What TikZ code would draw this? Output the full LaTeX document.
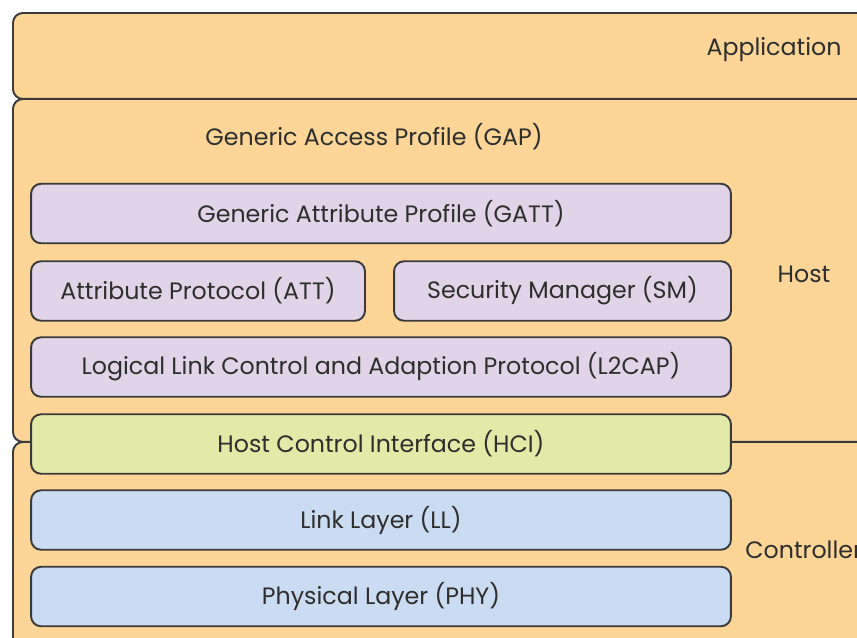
\documentclass[tikz,border=0pt]{standalone}
\usepackage{fontspec}
\setmainfont{Poppins}
\usepackage{xcolor}
\definecolor{layerOrange}{HTML}{FDD596}
\definecolor{layerPurple}{HTML}{E2D4E8}
\definecolor{layerGreen}{HTML}{E3E9A6}
\definecolor{layerBlue}{HTML}{CADCF1}
\definecolor{lineGray}{HTML}{3A3A3A}
\definecolor{textGray}{HTML}{2E2E2E}

\begin{document}
\begin{tikzpicture}[x=0.02cm,y=-0.02cm]
		\tikzset{layer/.style = {draw=lineGray, line width=1.1pt, fill=layerOrange, rounded corners=0.2cm}}
		\tikzset{block/.style = {shape=rectangle, draw=lineGray, line width=1.1pt, rounded corners=0.2cm, minimum height=1.19cm, inner sep=0pt, text=textGray, font=\fontsize{13.5}{15}\selectfont}}
		\tikzset{tag/.style = {text=textGray, inner sep=0pt, font=\fontsize{13.5}{15}\selectfont}}

		\useasboundingbox (0,0) rectangle (857,637);
		\clip (0,0) rectangle (857,637);

		\node[layer, shape=rectangle, minimum width=17.7cm, minimum height=1.72cm, anchor=north west] (app) at (12,12) {};
		\node[layer, shape=rectangle, minimum width=17.7cm, minimum height=6.86cm, anchor=north west] (host) at (12,98) {};
		\node[layer, shape=rectangle, minimum width=17.7cm, minimum height=4.6cm, anchor=north west] (ctrl) at (12,441) {};

		\node[tag] (appT) at (774,50) {Application};
		\node[tag] (hostT) at (804,274) {Host};
		\node[tag, anchor=west] (ctrlT) at (745,550) {Controller};
		\node[tag] (gap) at (374,137) {Generic Access Profile (GAP)};

		\node[block, fill=layerPurple, minimum width=14cm] (gatt) at (381,213.5) {Generic Attribute Profile (GATT)};
		\node[block, fill=layerPurple, minimum width=6.68cm] (att) at (198,291) {Attribute Protocol (ATT)};
		\node[block, fill=layerPurple, minimum width=6.74cm] (sm) at (562.5,291) {Security Manager (SM)};
		\node[block, fill=layerPurple, minimum width=14cm] (l2cap) at (381,367) {Logical Link Control and Adaption Protocol (L2CAP)};
		\node[block, fill=layerGreen, minimum width=14cm] (hci) at (381,444) {Host Control Interface (HCI)};
		\node[block, fill=layerBlue, minimum width=14cm] (ll) at (381,520) {Link Layer (LL)};
		\node[block, fill=layerBlue, minimum width=14cm] (phy) at (381,596.5) {Physical Layer (PHY)};

	\end{tikzpicture}
\end{document}
